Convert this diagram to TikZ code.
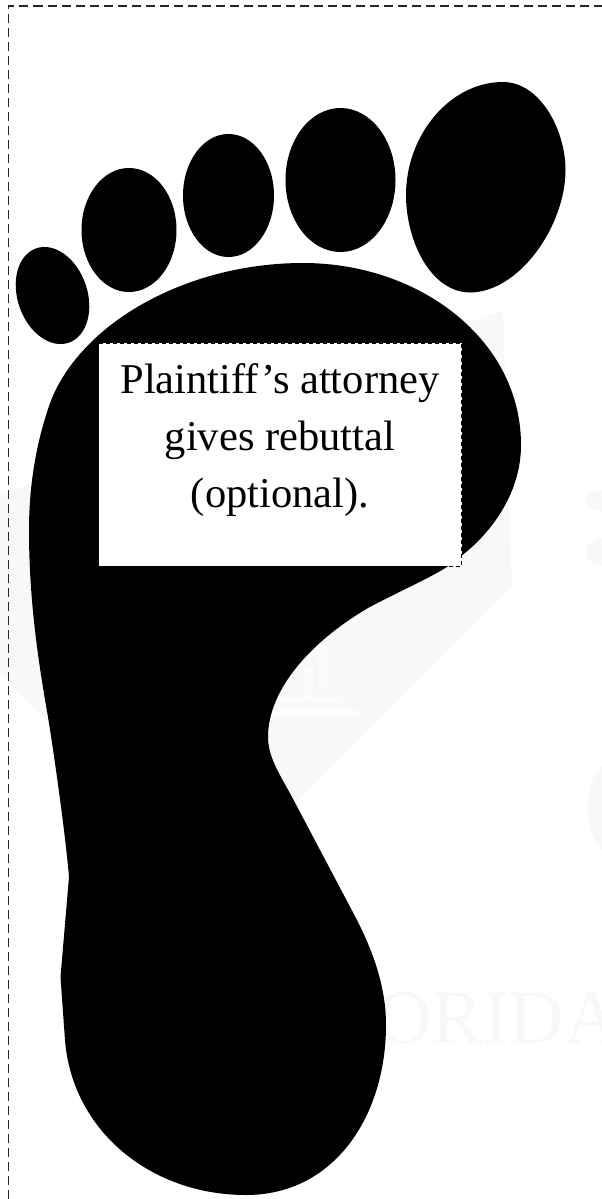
\documentclass[tikz,border=0pt]{standalone}
\usepackage{fontspec}
\setmainfont{Liberation Serif}
\usetikzlibrary{positioning}
\definecolor{markgray}{HTML}{F9F8F8}
\definecolor{marklight}{HTML}{FCFBFB}
\tikzset{
  footfill/.style={fill=black},
  markfill/.style={fill=markgray},
  markline/.style={fill=marklight},
  notebox/.style={draw=black, fill=white, line width=1pt,
                  dash pattern=on 4pt off 3pt, inner sep=0pt,
                  minimum width=363pt, minimum height=223pt, align=center,
                  font=\fontsize{42.5}{57}\selectfont}
}

\begin{document}
\begin{tikzpicture}[x=1pt, y=-1pt]
  \useasboundingbox (0,0) rectangle (602,1199);

  % Faint watermark behind the foot
  \fill[markfill] (0,495) -- (503,310) -- (512,587) -- (295,803) -- (50,725) -- (0,673) -- cycle;
  \fill[markline] (270,708) rectangle (358,717);
  \fill[markline] (277,697) rectangle (342,702);
  \fill[markline] (318,643) rectangle (328,687);
  \fill[markline] (303,667) rectangle (313,700);
  \fill[markfill] (604,763) .. controls (582,785) and (582,830) .. (604,853) -- cycle;
  \fill[markfill] (604,490) .. controls (580,490) and (580,510) .. (604,512) -- cycle;
  \fill[markfill] (604,537) .. controls (580,540) and (580,565) .. (604,567) -- cycle;
  \node[anchor=base west, inner sep=0pt, text=markgray, font=\fontsize{77}{77}\selectfont] (markname) at (376,1043) {ORIDA};

  % Page frame, only top and left show
  \draw[black!85, line width=1.6pt, dash pattern=on 9pt off 5pt] (8.5,1199) -- (8.5,6) -- (602,6);

  % Small toes, little one first
  \foreach \cx/\cy/\rx/\ry/\tilt in {52.5/295.5/34.9/49.9/19, 129/230/47.5/62/0, 228.5/195.5/45.5/61.5/0,
                                     340.5/180/55/72/0} {
    \fill[footfill] (\cx,\cy) ellipse [x radius=\rx, y radius=\ry, rotate=\tilt];
  }

  % Big toe
  \fill[footfill] (503,82) .. controls (540,82) and (565.5,130) .. (565.5,170)
    .. controls (565.5,225) and (520,292) .. (470,292.5)
    .. controls (430,292) and (406,240) .. (406,195)
    .. controls (406,135) and (450,82) .. (503,82) -- cycle;

  % Sole of the foot
  \fill[footfill] (303,263) .. controls (420,263) and (521,340) .. (521,445)
    .. controls (521,490) and (495,530) .. (460,557)
    .. controls (445,572) and (405,588) .. (368,608)
    .. controls (310,642) and (268,690) .. (268,737)
    .. controls (268,757) and (280,775) .. (292,797)
    -- (357,920)
    .. controls (372,950) and (386,985) .. (386,1025)
    .. controls (386,1115) and (335,1195) .. (246,1195)
    .. controls (150,1195) and (72,1130) .. (65,1040)
    -- (60.5,977) -- (69,877)
    .. controls (66,840) and (55,760) .. (48,717)
    .. controls (38,660) and (29,600) .. (29,530)
    .. controls (29,480) and (38,435) .. (52,398)
    .. controls (85,320) and (190,263) .. (303,263) -- cycle;

  % Text box on the sole
  \node[notebox] (plaintiffnote) at (280,454.5) {Plaintiff’s attorney\\gives rebuttal\\(optional).\\[-19pt]};
\end{tikzpicture}
\end{document}
